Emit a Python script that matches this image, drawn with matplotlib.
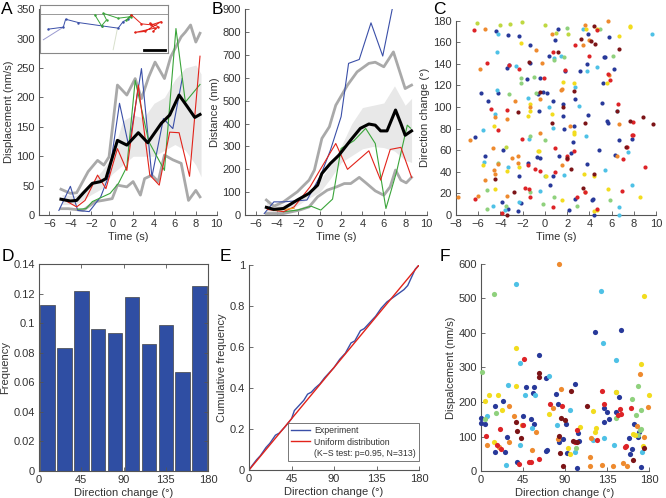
import matplotlib.pyplot as plt
from matplotlib.lines import Line2D

plt.rcParams['font.family'] = ['Liberation Sans', 'DejaVu Sans']
plt.rcParams['font.size'] = 8
plt.rcParams['text.color'] = '#333333'
plt.rcParams['axes.labelcolor'] = '#333333'

# ---------------- panel A: displacement vs time ----------------
a_mean_t = [-4.9, -4.0, -3.4, -2.8, -1.9, -1.1, -0.6, 0.5, 1.4, 2.5, 3.4, 4.7, 5.5, 6.4, 7.2, 7.9, 8.4]
a_mean_v = [27, 24, 25, 37, 54, 57, 62, 127, 119, 140, 123, 156, 170, 204, 184, 166, 171]
a_hi_t = [-4.9, -4.0, -3.4, -2.3, -1.4, -0.8, -0.3, 0.5, 1.4, 2.2, 2.8, 3.5, 4.1, 5.0, 5.6, 6.6, 7.0, 7.5, 8.0, 8.4]
a_hi_v = [44, 37, 38, 74, 93, 85, 99, 221, 204, 232, 198, 235, 260, 232, 269, 303, 311, 323, 294, 309]
a_lo_t = [-4.9, -4.2, -2.8, -1.6, -0.9, 0.0, 0.5, 1.4, 2.0, 2.7, 3.1, 3.8, 4.4, 5.0, 5.8, 6.6, 7.3, 8.0, 8.4]
a_lo_v = [11, 11, 8, 23, 25, 28, 51, 48, 57, 34, 62, 68, 57, 102, 94, 88, 25, 42, 31]
a_band_t = [-4.8, -3.5, -2.0, -1.0, 0.0, 1.0, 2.0, 3.0, 4.0, 5.0, 6.0, 7.0, 8.0, 8.5]
a_band_hi = [35, 33, 55, 75, 100, 160, 170, 165, 190, 200, 230, 250, 255, 240]
a_band_lo = [18, 18, 35, 45, 70, 85, 100, 100, 100, 110, 120, 110, 85, 65]
a_blue_t = [-5.1, -4.0, -3.3, -2.2, -1.1, -0.3, 0.7, 1.6, 2.8, 3.8, 4.9, 5.8, 6.7]
a_blue_v = [8, 49, 8, 6, 31, 68, 190, 116, 249, 65, 164, 147, 232]
a_green_t = [-3.3, -2.5, -1.9, -0.2, 0.6, 1.4, 2.2, 3.5, 5.0, 6.1, 7.0, 8.4]
a_green_v = [10, 11, 23, 37, 54, 82, 229, 125, 76, 317, 192, 222]
a_red_t = [-4.5, -3.4, -2.6, -1.4, -0.6, 0.5, 1.4, 2.5, 3.6, 4.5, 5.5, 6.4, 7.4, 8.4]
a_red_v = [25, 14, 25, 68, 45, 113, 76, 221, 68, 51, 141, 140, 66, 270]

# inset trajectories (inset pixel units)
ins_lav_x = [25, 85]
ins_lav_y = [120, 82]
ins_blue_x = [40, 85, 92, 130, 200, 250, 265, 280, 290]
ins_blue_y = [88, 82, 58, 68, 78, 85, 65, 58, 45]
ins_green_x = [180, 200, 215, 205, 250, 290, 275, 290]
ins_green_y = [45, 78, 60, 40, 55, 50, 60, 45]
ins_red_x = [290, 320, 350, 380, 330, 300, 360, 345, 370, 355]
ins_red_y = [45, 72, 75, 65, 95, 98, 85, 70, 80, 95]
ins_gray_x = [248, 235]
ins_gray_y = [85, 150]

# ---------------- panel B: distance vs time ----------------
b_mean_t = [-5.0, -4.3, -3.4, -2.1, -1.0, -0.2, 0.2, 1.0, 1.8, 2.9, 3.8, 4.6, 5.2, 5.7, 6.3, 7.1, 7.6, 8.0, 8.6]
b_mean_v = [34, 25, 29, 66, 95, 131, 182, 226, 262, 328, 379, 398, 393, 368, 368, 459, 400, 349, 368]
b_hi_t = [-5.0, -4.3, -3.4, -2.1, -1.0, -0.5, 0.2, 0.9, 1.5, 2.6, 3.5, 4.6, 5.2, 6.0, 6.9, 8.0, 8.6]
b_hi_v = [66, 39, 58, 102, 153, 197, 335, 386, 480, 568, 626, 663, 668, 648, 713, 553, 568]
b_lo_t = [-5.0, -3.4, -1.9, -1.0, -0.2, 0.7, 1.6, 2.3, 2.9, 3.7, 4.4, 5.2, 6.0, 6.6, 7.1, 7.6, 8.1, 8.6]
b_lo_v = [7, 7, 22, 36, 80, 109, 124, 138, 138, 165, 138, 106, 87, 124, 197, 153, 141, 165]
b_band_t = [-5.0, -4.0, -3.0, -2.0, -1.0, 0.0, 1.0, 2.0, 3.0, 4.0, 5.0, 6.0, 7.0, 8.0, 8.6]
b_band_hi = [60, 45, 50, 80, 110, 150, 220, 300, 400, 470, 480, 490, 565, 480, 510]
b_band_lo = [10, 8, 15, 45, 75, 100, 160, 230, 260, 290, 300, 295, 280, 240, 230]
b_blue_t = [-5.2, -4.3, -3.4, -1.2, 0.1, 1.0, 2.0, 2.7, 3.7, 4.8, 5.9, 6.8]
b_blue_v = [7, 58, 58, 66, 175, 284, 430, 663, 680, 840, 695, 903]
b_red_t = [-4.9, -3.4, -2.4, -0.9, 0.2, 1.5, 2.6, 4.6, 5.7, 6.6, 7.6, 8.6]
b_red_v = [25, 15, 36, 124, 211, 313, 200, 281, 153, 287, 296, 165]
b_green_t = [-3.4, -2.1, -0.8, 0.1, 1.2, 2.0, 3.2, 4.3, 5.2, 6.2, 7.2, 8.2, 8.5]
b_green_v = [15, 22, 39, 22, 70, 291, 325, 379, 313, 29, 190, 393, 380]
b_orange_t = [-4.3, -3.3, -2.4]
b_orange_v = [20, 25, 30]

# ---------------- panel C / F scatter points, grouped by colour ----------------
c_navy = [(-4.4, 170), (-3.3, 167), (-2.3, 166), (1.2, 172), (0.9, 162), (3.9, 168), (5.75, 165),
          (-1.35, 157), (0.35, 147), (5.3, 146), (-3.45, 136), (-3.25, 139), (-1.3, 141), (1.8, 133),
          (3.2, 133), (3.75, 140), (5.4, 146), (6.2, 135), (-1.65, 126), (-0.4, 127), (5.25, 122),
          (-5.75, 113), (-4.2, 113), (-5.1, 106), (-0.65, 112), (-0.15, 114), (0.2, 113), (0.7, 106),
          (2.7, 107), (5.15, 104), (-0.55, 96), (1.65, 103), (1.6, 92), (1.75, 80), (2.65, 82),
          (3.9, 93), (5.6, 87), (5.7, 85), (-6.25, 72), (7.8, 70), (6.7, 69), (-3.75, 60), (-1.55, 48),
          (-0.75, 54), (-0.4, 53), (1.3, 55), (2.35, 57), (2.55, 68), (4.85, 60), (6.35, 56), (-5.4, 55),
          (-2.3, 36), (0.7, 36), (3.8, 47), (-3.9, 12), (-3.35, 6), (-2.45, 4), (-2.15, 11), (0.5, 28),
          (2.2, 5), (2.75, 15), (4.3, 15), (4.2, 14), (4.45, 0)]
c_cyan = [(-4.2, 168), (9.6, 168), (3.45, 172), (-4.35, 151), (0.8, 145), (1.45, 147), (-2.6, 138),
          (3.8, 133), (4.7, 137), (2.7, 119), (-4.3, 116), (-1.55, 108), (3.1, 101), (6.45, 96), (0.4, 100),
          (0.7, 81), (-4.5, 94), (-5.55, 79), (-1.4, 70), (3.7, 73), (7.45, 58), (-5.45, 49), (-3.3, 44),
          (1.7, 37), (5.45, 42), (-4.7, 8), (-3.6, 5), (-2.35, 12), (-0.4, 22), (6.7, 7), (6.7, 0), (7.8, 28)]
c_green = [(1.95, 173), (5.0, 172), (0.85, 144), (1.75, 146), (6.1, 147), (-2.15, 127), (-2.15, 122),
           (-0.98, 128), (-3.2, 112), (-0.8, 113), (-1.3, 73), (0.0, 69), (-4.2, 48), (0.0, 36),
           (-5.25, 23), (-5.2, 6), (-3.5, 8), (-1.35, 21), (-0.2, 10), (0.85, 17), (2.9, 8), (5.9, 14)]
c_ygreen = [(-6.1, 178), (-4.05, 176), (-3.1, 177), (-2.05, 179), (0.0, 176), (1.0, 169), (2.05, 168),
            (-3.5, 63)]
c_yellow = [(3.7, 172), (4.65, 172), (6.7, 166), (7.65, 175), (7.7, 174), (-2.15, 159), (1.6, 123),
            (2.6, 122), (5.6, 122), (-1.35, 103), (-1.3, 96), (-1.5, 92), (0.65, 94), (2.6, 77), (2.6, 75),
            (-4.55, 82), (-0.6, 59), (-0.5, 59), (-5.55, 46), (-3.45, 41), (-2.35, 44), (0.1, 36), (3.5, 38),
            (4.45, 36), (-4.5, 24), (1.5, 14), (4.45, 4), (4.7, 5), (5.7, 24), (8.6, 17)]
c_orange = [(-5.4, 172), (0.6, 168), (3.6, 176), (5.65, 180), (-0.8, 153), (-0.25, 141), (3.4, 157),
            (3.95, 162), (-5.8, 135), (5.75, 130), (-2.7, 106), (-0.4, 107), (1.45, 116), (1.55, 117),
            (-4.5, 91), (-3.45, 89), (-1.35, 100), (2.3, 82), (6.65, 84), (-6.75, 69), (-0.45, 76),
            (-4.7, 62), (-2.95, 53), (-2.45, 55), (6.45, 55), (-4.2, 47), (-4.55, 42), (-4.5, 38),
            (-2.45, 48), (1.55, 46), (-6.0, 18), (-5.4, 32), (-7.85, 17), (-3.45, 18), (3.6, 21)]
c_red = [(-6.4, 171), (4.7, 171), (0.7, 151), (3.95, 147), (2.75, 157), (-5.2, 141), (-3.2, 139),
         (-2.3, 135), (1.8, 134), (5.65, 131), (5.9, 125), (-0.1, 127), (6.6, 103), (-4.85, 98),
         (-3.4, 97), (-4.2, 79), (-2.05, 70), (7.95, 86), (7.8, 74), (7.95, 74), (0.9, 62), (1.95, 55),
         (1.95, 52), (2.6, 59), (7.0, 52), (7.35, 63), (-0.85, 43), (-0.4, 41), (-1.55, 46), (0.9, 40),
         (9.05, 44), (-6.25, 15), (-3.9, 2), (-1.75, 25), (-1.4, 24), (-1.35, 17), (0.7, 7), (2.9, 17),
         (3.65, 21), (4.65, 6), (6.95, 22)]
c_dred = [(4.4, 175), (1.2, 151), (3.25, 163), (4.15, 161), (4.5, 158), (6.7, 154), (-1.4, 142),
          (2.6, 115), (6.5, 96), (-2.45, 95), (0.65, 85), (1.6, 100), (3.6, 85), (7.65, 87), (8.8, 91),
          (9.7, 84), (1.95, 53), (7.3, 63), (-4.5, 33), (2.35, 43), (4.45, 38), (-3.45, 0), (-2.8, 21),
          (3.45, 25), (-0.4, 114)]

f_navy = [(122.4, 402), (149.8, 410), (62.6, 336), (70, 269), (100.7, 252), (23.5, 202), (48.7, 244),
          (56.6, 243), (55.9, 226), (80.4, 222), (82.9, 195), (83.6, 84), (87.5, 92), (90.7, 135),
          (92.5, 53), (103.9, 111), (105.3, 87), (102.8, 9), (132.3, 182), (134.5, 171), (131.6, 142),
          (137.3, 151), (145.1, 172), (147.6, 215), (158.3, 96), (159.4, 50), (161.5, 65), (163.6, 137),
          (169.3, 113), (168.3, 99), (171.1, 13), (0, 154), (0, 140), (3.9, 137), (15.3, 188), (14.6, 55),
          (26, 55), (27.7, 99), (38.4, 25), (45.2, 160), (53.7, 152), (56.6, 137), (69.7, 58), (70.5, 62)]
f_cyan = [(37.4, 541), (128.8, 522), (130.6, 371), (42, 314), (145.1, 322), (72.6, 275), (29.2, 250),
          (47.3, 220), (57.6, 219), (81.8, 132), (95, 176), (100.7, 55), (119.5, 90), (131.3, 97),
          (143, 75), (172.5, 55), (6.4, 160), (27, 16), (42, 75), (54.8, 124)]
f_green = [(13.5, 512), (1.4, 286), (144.3, 229), (167.9, 247), (101.4, 68), (145.1, 154), (161.9, 210),
           (166.5, 162), (167.9, 103), (170, 119), (171.1, 121), (171.8, 176), (4.3, 152), (16, 168)]
f_yellow = [(174.3, 507), (37, 356), (171.8, 311), (37.7, 247), (145, 228), (179.6, 219), (8.9, 219),
            (17.8, 220), (3.9, 202), (73.3, 165), (93.2, 68), (95, 49), (106, 127), (120.2, 173),
            (123.1, 126), (122.4, 113), (162.9, 108), (165.4, 105), (173.6, 72), (13.9, 84), (22.8, 176)]
f_orange = [(83.6, 600), (170, 281), (85.7, 238), (77.5, 184), (82.9, 92), (117.8, 97), (116.3, 41),
            (116.7, 15), (129.5, 17), (140.9, 15), (152.6, 24), (156.9, 14), (167.2, 130), (174.7, 99),
            (179.3, 186), (6.4, 75), (19.2, 71), (30.2, 84), (30.2, 187), (35.6, 160), (44.1, 133),
            (59, 113), (54.8, 60)]
f_red = [(46.6, 324), (129.8, 232), (74, 195), (86.4, 188), (100.7, 85), (102.8, 120), (124.5, 89),
         (131.3, 193), (149.4, 181), (146.6, 162), (150.5, 166), (154, 70), (155.8, 72), (161.2, 182),
         (5.3, 102), (17.4, 74), (21.3, 65), (20.6, 122), (40.6, 19), (45.5, 132), (51.2, 25), (53.4, 27),
         (61.9, 35)]
f_dred = [(62.6, 284), (62.6, 272), (96, 232), (84, 101), (85.4, 155), (84.3, 51), (87.5, 15), (90, 149),
          (98.2, 87), (102.5, 84), (113.8, 188), (162.9, 31), (174.3, 68), (37.7, 142), (38.4, 115),
          (43.4, 97)]

# ---------------- panel D: histogram of direction change ----------------
d_centers = [9, 27, 45, 63, 81, 99, 117, 135, 153, 171]
d_freq = [0.112, 0.083, 0.122, 0.096, 0.093, 0.118, 0.086, 0.099, 0.067, 0.125]

# ---------------- panel E: cumulative frequency ----------------
e_angle = [0, 3, 8, 12, 18, 22, 28, 32, 38, 45, 48, 52, 58, 62, 66, 70, 75, 80, 86, 90, 96, 102,
           108, 112, 118, 122, 128, 134, 140, 146, 152, 158, 164, 168, 172, 176, 180]
e_cum = [0, 0.02, 0.05, 0.07, 0.11, 0.13, 0.17, 0.18, 0.21, 0.25, 0.29, 0.31, 0.34, 0.37, 0.38, 0.40,
         0.42, 0.45, 0.48, 0.50, 0.54, 0.57, 0.62, 0.63, 0.68, 0.69, 0.72, 0.75, 0.79, 0.82, 0.84, 0.86,
         0.88, 0.90, 0.94, 0.98, 1.0]
e_unif_x = [0, 180]
e_unif_y = [0, 1]

# colours
GRAY = '#a9a9a9'
BAND = '#e8e8e8'
LBLUE = '#3a4fa8'
LGREEN = '#3aa53a'
LRED = '#e2231a'
SPINE = '#555555'
palette = {'navy': '#28399a', 'cyan': '#4ec1e6', 'green': '#8fd17d', 'ygreen': '#bfd842',
           'yellow': '#f2dc1e', 'orange': '#ee8a2e', 'red': '#dd2327', 'dred': '#7c1417'}


def style(ax, box=False):
    for side in ['top', 'right']:
        ax.spines[side].set_visible(box)
    for sp in ax.spines.values():
        sp.set_color(SPINE)
        sp.set_linewidth(0.8)
    ax.tick_params(direction='in', length=3, width=0.6, color=SPINE, labelsize=8,
                   labelcolor='#333333', top=box, right=box, pad=3)


fig = plt.figure(figsize=(6.66, 4.98), dpi=100)

# A
axA = fig.add_axes([0.0586, 0.568, 0.2668, 0.4137])
axA.fill_between(a_band_t, a_band_lo, a_band_hi, color=BAND, lw=0, zorder=1)
axA.plot(a_hi_t, a_hi_v, color=GRAY, lw=2, zorder=2)
axA.plot(a_lo_t, a_lo_v, color=GRAY, lw=2, zorder=2)
axA.plot(a_blue_t, a_blue_v, color=LBLUE, lw=0.8, zorder=3)
axA.plot(a_green_t, a_green_v, color=LGREEN, lw=0.8, zorder=3)
axA.plot(a_red_t, a_red_v, color=LRED, lw=0.8, zorder=3)
axA.plot(a_mean_t, a_mean_v, color='black', lw=2.2, zorder=4)
axA.set_xlim(-7, 10)
axA.set_ylim(0, 350)
axA.set_xticks(range(-6, 11, 2))
axA.set_yticks(range(0, 351, 50))
axA.set_xlabel('Time (s)', labelpad=2)
axA.set_ylabel('Displacement (nm/s)', labelpad=2)
style(axA)

# inset in A
axI = fig.add_axes([0.0601, 0.8936, 0.1922, 0.0964])
axI.plot([15, 400], [42, 42], color='#999999', lw=0.7)
axI.plot(ins_gray_x, ins_gray_y, color='#d8e0cc', lw=0.7)
axI.plot(ins_lav_x, ins_lav_y, color='#9a9ad0', lw=0.7)
axI.plot(ins_blue_x, ins_blue_y, color=LBLUE, lw=0.7, marker='.', ms=1.5)
axI.plot(ins_green_x, ins_green_y, color=LGREEN, lw=0.7, marker='.', ms=1.5)
axI.plot(ins_red_x, ins_red_y, color=LRED, lw=0.7, marker='.', ms=1.5)
axI.plot([328, 390], [150, 150], color='black', lw=2)
axI.set_xlim(15, 400)
axI.set_ylim(160, 15)
axI.set_xticks([])
axI.set_yticks([])
for sp in axI.spines.values():
    sp.set_color('#888888')
    sp.set_linewidth(0.8)

# B
axB = fig.add_axes([0.3679, 0.568, 0.2725, 0.4137])
axB.fill_between(b_band_t, b_band_lo, b_band_hi, color=BAND, lw=0, zorder=1)
axB.plot(b_hi_t, b_hi_v, color=GRAY, lw=2, zorder=2)
axB.plot(b_lo_t, b_lo_v, color=GRAY, lw=2, zorder=2)
axB.plot(b_blue_t, b_blue_v, color=LBLUE, lw=0.8, zorder=3)
axB.plot(b_green_t, b_green_v, color=LGREEN, lw=0.8, zorder=3)
axB.plot(b_red_t, b_red_v, color=LRED, lw=0.8, zorder=3)
axB.plot(b_orange_t, b_orange_v, color='#f0a020', lw=0.8, zorder=3)
axB.plot(b_mean_t, b_mean_v, color='black', lw=2.2, zorder=4)
axB.set_xlim(-7, 10)
axB.set_ylim(0, 900)
axB.set_xticks(range(-6, 11, 2))
axB.set_yticks(range(0, 901, 100))
axB.set_xlabel('Time (s)', labelpad=2)
axB.set_ylabel('Distance (nm)', labelpad=2)
style(axB)

# C
axC = fig.add_axes([0.6847, 0.5683, 0.3003, 0.3902])
for pts, key in [(c_navy, 'navy'), (c_cyan, 'cyan'), (c_green, 'green'), (c_ygreen, 'ygreen'),
                 (c_yellow, 'yellow'), (c_orange, 'orange'), (c_red, 'red'), (c_dred, 'dred')]:
    axC.scatter([p[0] for p in pts], [p[1] for p in pts], s=9, color=palette[key], lw=0,
                clip_on=False, zorder=3)
axC.set_xlim(-8, 10)
axC.set_ylim(0, 180)
axC.set_xticks(range(-8, 11, 2))
axC.set_yticks(range(0, 181, 20))
axC.set_xlabel('Time (s)', labelpad=2)
axC.set_ylabel('Direction change (°)', labelpad=2)
style(axC)

# D
axD = fig.add_axes([0.0586, 0.0542, 0.2538, 0.4157])
axD.bar(d_centers, d_freq, width=15.5, color='#2f4ea3', edgecolor='#444444', linewidth=0.5)
axD.set_xlim(0, 180)
axD.set_ylim(0, 0.14)
axD.set_xticks([0, 45, 90, 135, 180])
axD.set_yticks([0, 0.02, 0.04, 0.06, 0.08, 0.1, 0.12, 0.14])
axD.set_yticklabels(['0', '0.02', '0.04', '0.06', '0.08', '0.1', '0.12', '0.14'])
axD.set_xlabel('Direction change (°)', labelpad=2)
axD.set_ylabel('Frequency', labelpad=2)
style(axD, box=True)

# E
axE = fig.add_axes([0.3739, 0.0562, 0.2553, 0.4116])
axE.plot(e_angle, e_cum, color=LBLUE, lw=1)
axE.plot(e_unif_x, e_unif_y, color=LRED, lw=1)
axE.set_xlim(0, 180)
axE.set_ylim(0, 1)
axE.set_xticks([0, 45, 90, 135, 180])
axE.set_yticks([0, 0.2, 0.4, 0.6, 0.8, 1])
axE.set_yticklabels(['0', '0.2', '0.4', '0.6', '0.8', '1'])
axE.set_xlabel('Direction change (°)', labelpad=2)
axE.set_ylabel('Cumulative frequency', labelpad=2)
style(axE)
handles = [Line2D([], [], color=LBLUE, lw=1), Line2D([], [], color=LRED, lw=1),
           Line2D([], [], color='none')]
leg = axE.legend(handles, ['Experiment', 'Uniform distribution', '(K\u2212S test: p=0.95, N=313)'],
                 loc='lower right', bbox_to_anchor=(1.0, 0.045), fontsize=6.3, fancybox=False,
                 handlelength=2.2, handletextpad=0.5, borderpad=0.35, labelspacing=0.25,
                 borderaxespad=0.0)
leg.get_frame().set_edgecolor('#555555')
leg.get_frame().set_linewidth(0.7)

# F
axF = fig.add_axes([0.7222, 0.0542, 0.2523, 0.4157])
for pts, key in [(f_navy, 'navy'), (f_cyan, 'cyan'), (f_green, 'green'), (f_yellow, 'yellow'),
                 (f_orange, 'orange'), (f_red, 'red'), (f_dred, 'dred')]:
    axF.scatter([p[0] for p in pts], [p[1] for p in pts], s=14, color=palette[key], lw=0,
                clip_on=False, zorder=3)
axF.set_xlim(0, 180)
axF.set_ylim(0, 600)
axF.set_xticks([0, 45, 90, 135, 180])
axF.set_yticks(range(0, 601, 100))
axF.set_xlabel('Direction change (°)', labelpad=2)
axF.set_ylabel('Dispalcement (nm/s)', labelpad=2)
style(axF)

# panel letters
for x, y, s in [(0.002, 0.995, 'A'), (0.318, 0.995, 'B'), (0.651, 0.995, 'C'),
                (0.002, 0.500, 'D'), (0.330, 0.500, 'E'), (0.660, 0.500, 'F')]:
    fig.text(x, y, s, fontsize=12.5, va='top', ha='left', color='black')

fig.savefig('out.png', dpi=100)
